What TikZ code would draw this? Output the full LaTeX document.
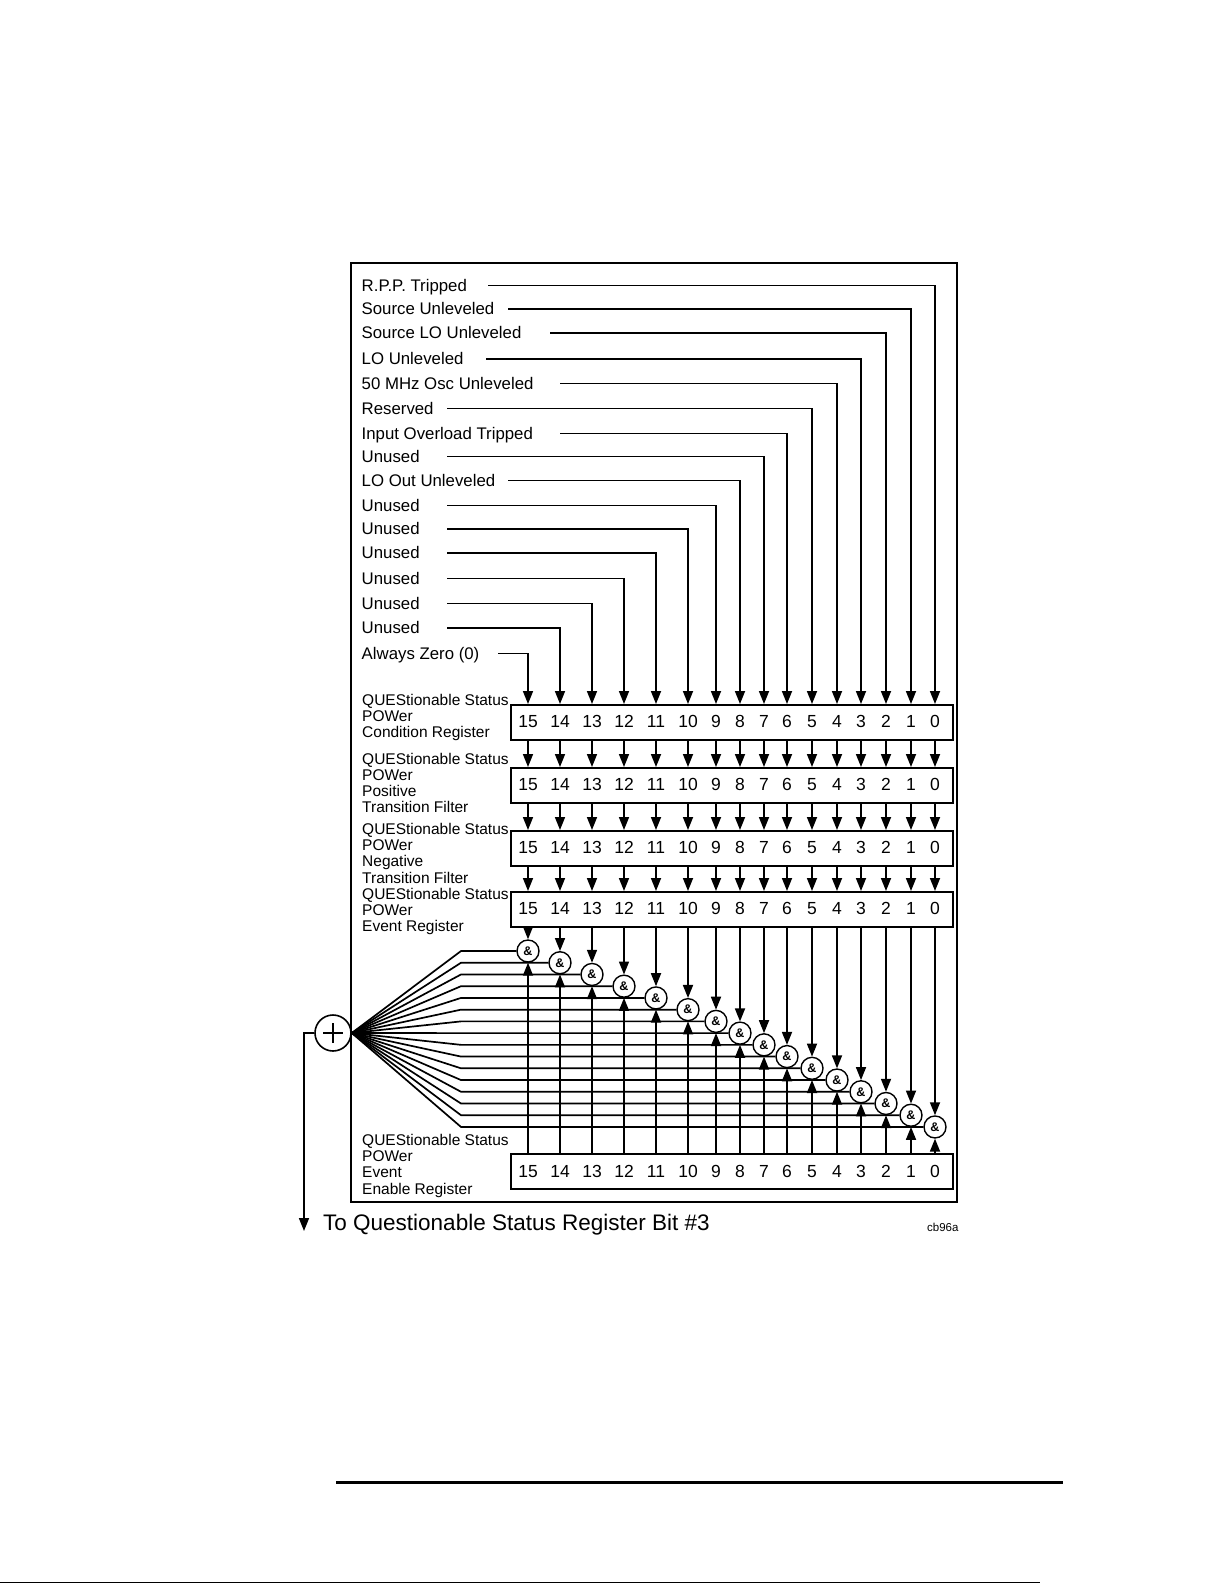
\documentclass[tikz,border=0pt]{standalone}
\usepackage{fontspec}
\setmainfont{Liberation Sans}
\usetikzlibrary{arrows.meta}
\begin{document}
\begin{tikzpicture}[x=1pt,y=-1pt,
  ln/.style={line width=1.7pt},
  arr/.style={line width=1.7pt,-{Triangle[width=10pt,length=13pt]}},
  regbox/.style={draw,line width=2pt,minimum width=442pt,minimum height=35pt,inner sep=0pt,anchor=north west},
  digit/.style={inner sep=0pt,anchor=base,font=\fontsize{17.5}{19}\selectfont},
  lab/.style={anchor=base west,inner sep=0pt,font=\fontsize{16.8}{18}\selectfont},
  rlab/.style={anchor=base west,inner sep=0pt,font=\fontsize{15.5}{17}\selectfont},
  gate/.style={draw,circle,line width=1.4pt,minimum size=22pt,inner sep=0pt,fill=white,font=\fontsize{12.5}{12.5}\selectfont\bfseries}]
\useasboundingbox (0,0) rectangle (1225,1583);
\fill[white] (0,0) rectangle (1225,1583);

% frame
\draw[line width=2pt] (351,263) rectangle (957,1202);

% register boxes
\node[regbox] (cond) at (510,704) {};
\node[regbox] (pos) at (510,767) {};
\node[regbox] (neg) at (510,830) {};
\node[regbox] (ev) at (510,891) {};
\node[regbox] (en) at (510,1153) {};

% plus node
\node[draw,circle,minimum size=36pt,line width=1.6pt,inner sep=0pt] (plus) at (333,1033) {};
\draw[line width=2pt] (plus.center) ++(-10,0) -- ++(20,0);
\draw[line width=2pt] (plus.center) ++(0,-10) -- ++(0,20);

% columns
\foreach \b/\x in {15/528,14/560,13/592,12/624,11/656,10/688,9/716,8/740,7/764,6/787,5/812,4/837,3/861,2/886,1/911,0/935}{
  \node[digit] (c\b) at (\x,727.3) {\b};
  \node[digit] (p\b) at (\x,790.3) {\b};
  \node[digit] (n\b) at (\x,853.8) {\b};
  \node[digit] (e\b) at (\x,914.8) {\b};
  \node[digit] (m\b) at (\x,1177.3) {\b};
  \pgfmathsetmacro\gy{951+11.73*(15-\b)}
  \node[gate] (g\b) at (\x,\gy) {\&};
  \coordinate (f\b) at (461,\gy);
  \draw[arr] (cond.south -| c\b) -- (pos.north -| c\b);
  \draw[arr] (pos.south -| c\b) -- (neg.north -| c\b);
  \draw[arr] (neg.south -| c\b) -- (ev.north -| c\b);
  \draw[arr] (ev.south -| c\b) -- (g\b.north);
  \draw[arr] (en.north -| c\b) -- (g\b.south);
  \draw[ln] (plus.east) -- (f\b) -- (g\b.west);
}

% top labels
\foreach \b/\t/\sx/\ly in {0/R.P.P. Tripped/488/285.5,1/Source Unleveled/508/309,2/Source LO Unleveled/550/333,3/LO Unleveled/486/359,4/50 MHz Osc Unleveled/560/383.5,5/Reserved/447/408.5,6/Input Overload Tripped/560/433.5,7/Unused/447/456.5,8/LO Out Unleveled/508/480.5,9/Unused/447/505.5,10/Unused/447/529,11/Unused/447/553,12/Unused/447/578.5,13/Unused/447/603.5,14/Unused/447/628,15/Always Zero (0)/498/653.5}{
  \node[lab] (t\b) at (361.5,\ly+5.5) {\t};
  \coordinate (s\b) at (\sx,\ly);
  \draw[arr] (s\b) -| (cond.north -| c\b);
}

% register labels
\node[rlab] (lc1) at (362,705.5) {QUEStionable Status};
\node[rlab] (lc2) at (362,721.7) {POWer};
\node[rlab] (lc3) at (362,737.9) {Condition Register};
\node[rlab] (lp1) at (362,764) {QUEStionable Status};
\node[rlab] (lp2) at (362,780.2) {POWer};
\node[rlab] (lp3) at (362,796.4) {Positive};
\node[rlab] (lp4) at (362,812.6) {Transition Filter};
\node[rlab] (ln1) at (362,834.5) {QUEStionable Status};
\node[rlab] (ln2) at (362,850.7) {POWer};
\node[rlab] (ln3) at (362,866.9) {Negative};
\node[rlab] (ln4) at (362,883.1) {Transition Filter};
\node[rlab] (le1) at (362,899.5) {QUEStionable Status};
\node[rlab] (le2) at (362,915.7) {POWer};
\node[rlab] (le3) at (362,931.9) {Event Register};
\node[rlab] (lm1) at (362,1145.5) {QUEStionable Status};
\node[rlab] (lm2) at (362,1161.7) {POWer};
\node[rlab] (lm3) at (362,1177.9) {Event};
\node[rlab] (lm4) at (362,1194.1) {Enable Register};

% output
\coordinate (outend) at (304,1231);
\draw[arr] (plus.west) -| (outend);
\node[anchor=base west,inner sep=0pt,font=\fontsize{22.5}{24}\selectfont] (to) at (323,1230) {To Questionable Status Register Bit \#3};
\node[anchor=base west,inner sep=0pt,font=\fontsize{11.5}{12}\selectfont] (cb) at (927,1231) {cb96a};

% page rules
\coordinate (r1) at (336,1482);
\coordinate (r2) at (1063,1482);
\draw[line width=3pt] (r1) -- (r2);
\coordinate (b1) at (0,1582.3);
\coordinate (b2) at (1040,1582.3);
\draw[line width=1pt] (b1) -- (b2);
\end{tikzpicture}
\end{document}
